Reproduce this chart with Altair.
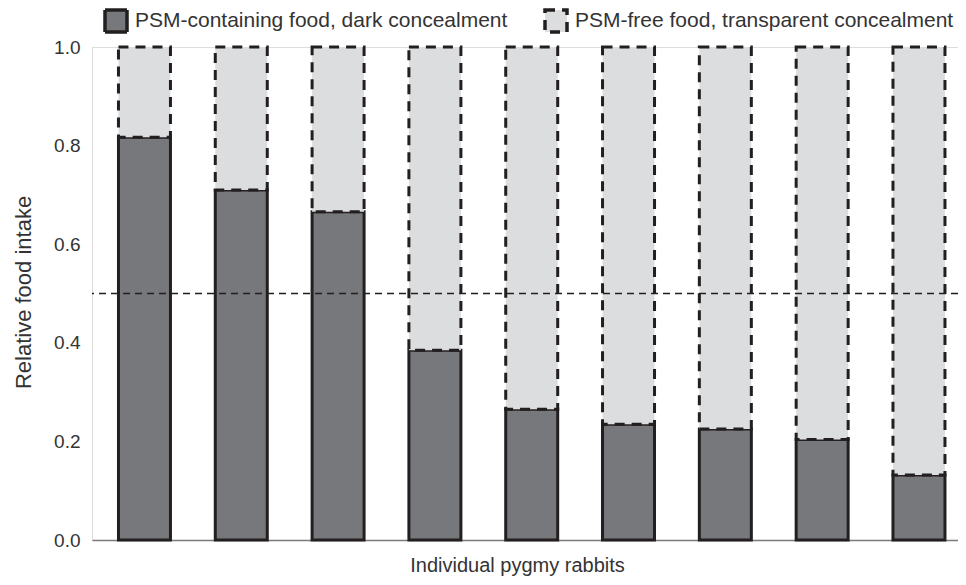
import altair as alt
import pandas as pd

rabbits = ["1", "2", "3", "4", "5", "6", "7", "8", "9"]
psm_share = [0.817, 0.710, 0.666, 0.385, 0.265, 0.235, 0.225, 0.204, 0.132]
series_names = ["PSM-containing food, dark concealment", "PSM-free food, transparent concealment"]
fill_colors = ["#77787b", "#dcdddf"]
outline_colors = ["#231f20", "#231f20"]
reference_line = [0.5]
y_ticks = [0.0, 0.2, 0.4, 0.6, 0.8, 1.0]

rows = []
for r, v in zip(rabbits, psm_share):
    rows.append({"rabbit": r, "series": series_names[0], "y0": 0.0, "y1": v})
for r, v in zip(rabbits, psm_share):
    rows.append({"rabbit": r, "series": series_names[1], "y0": v, "y1": 1.0})
df = pd.DataFrame(rows)

FONT = "Liberation Sans"
TXT = "#333333"

legend = alt.Legend(
    title=None, orient="none", direction="horizontal", legendX=11, legendY=-39,
    symbolType="square", symbolSize=484, symbolStrokeWidth=3.5,
    symbolOpacity=1, labelFontSize=21, labelFont=FONT, labelColor=TXT, labelOffset=6,
    columnPadding=30, padding=0, labelLimit=600,
)

bars = alt.Chart(df).mark_bar(strokeWidth=3).encode(
    x=alt.X("rabbit:O", sort=None,
            scale=alt.Scale(paddingInner=0.463, paddingOuter=0.204, align=0.67),
            axis=alt.Axis(labels=False, ticks=False, domain=True, domainColor="#7a7a7a",
                          domainWidth=1.3, grid=False, title="Individual pygmy rabbits",
                          titleFont=FONT, titleFontSize=20, titleFontWeight="normal",
                          titleColor=TXT, titleX=425, titleY=31, titleBaseline="alphabetic",
                          titleAlign="center")),
    y=alt.Y("y0:Q", scale=alt.Scale(domain=[0, 1], nice=False),
            axis=alt.Axis(values=y_ticks, format=".1f", domain=False, ticks=False, grid=False,
                          labelFont=FONT, labelFontSize=19, labelColor=TXT, labelPadding=12,
                          title="Relative food intake", titleFont=FONT, titleFontSize=22,
                          titleFontWeight="normal", titleColor=TXT, titleX=-69, titleY=245,
                          titleAlign="center", titleBaseline="middle", titleAngle=270)),
    y2="y1:Q",
    fill=alt.Fill("series:N", scale=alt.Scale(domain=series_names, range=fill_colors), legend=legend),
    stroke=alt.Stroke("series:N", scale=alt.Scale(domain=series_names, range=outline_colors), legend=legend),
    strokeDash=alt.StrokeDash("series:N", scale=alt.Scale(domain=series_names, range=[[1, 0], [10, 7]]),
                              legend=legend),
)

rule = alt.Chart(pd.DataFrame({"y": reference_line})).mark_rule(
    color="#231f20", strokeWidth=1.5, strokeDash=[7, 5]
).encode(y="y:Q")

chart = alt.layer(bars, rule).properties(
    width=866, height=493,
    autosize=alt.AutoSizeParams(type="none"),
    padding={"left": 84, "top": 39, "right": 0, "bottom": 37},
).configure_view(stroke=None).configure(background="white")

chart.save("out.html", embed_options={"renderer": "svg", "actions": False})
